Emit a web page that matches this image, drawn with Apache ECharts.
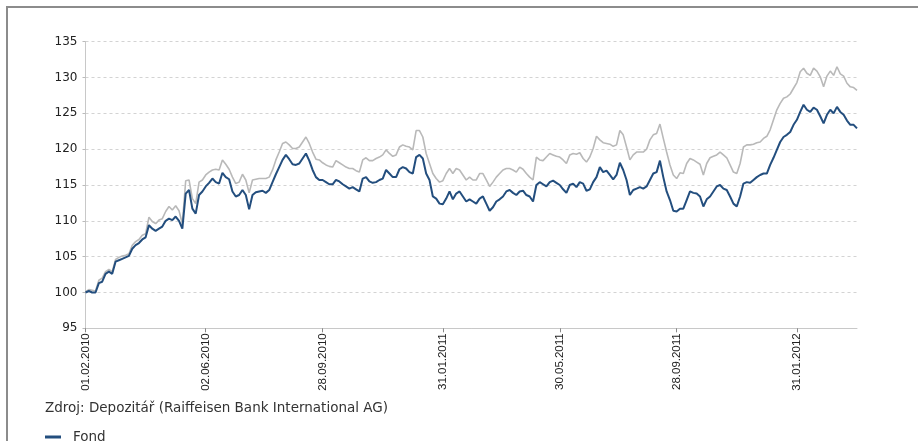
<!DOCTYPE html>
<html><head><meta charset="utf-8">
<script src="https://cdn.jsdelivr.net/npm/echarts@6/dist/echarts.min.js"></script>
<style>
html,body{margin:0;padding:0;background:#fff;}
#frame{position:absolute;left:6px;top:6px;width:912px;height:435px;border-left:2px solid #8c8c8c;border-top:2px solid #8c8c8c;box-sizing:border-box;}
#chart{position:absolute;left:0;top:0;width:918px;height:441px;}
</style></head><body>
<div id="frame"></div><div id="chart"></div>
<script>
const tickLabels = ['01.02.2010','02.06.2010','28.09.2010','31.01.2011','30.05.2011','28.09.2011','31.01.2012'];
const tickIndex = [0, 36, 71, 107, 142, 177, 213];

const fund = [
100.0,100.2,100.0,100.0,101.3,101.5,102.6,102.9,102.6,104.3,
104.5,104.7,104.9,105.1,106.1,106.6,106.9,107.4,107.7,109.4,
108.9,108.6,108.9,109.2,110.0,110.3,110.1,110.6,110.0,108.9,
113.8,114.3,111.7,111.0,113.6,114.1,114.8,115.3,115.9,115.4,
115.2,116.7,116.1,115.8,114.1,113.4,113.6,114.3,113.6,111.6,
113.6,114.0,114.1,114.2,113.9,114.3,115.4,116.5,117.5,118.5,
119.2,118.6,117.9,117.8,118.0,118.7,119.4,118.4,117.1,116.1,
115.7,115.7,115.4,115.1,115.1,115.7,115.5,115.1,114.8,114.5,
114.7,114.4,114.1,115.9,116.1,115.5,115.3,115.4,115.7,115.9,
117.1,116.6,116.1,116.1,117.2,117.5,117.3,116.8,116.6,118.9,
119.2,118.7,116.6,115.7,113.4,113.1,112.4,112.3,113.1,
114.1,113.0,113.8,114.1,113.4,112.7,113.0,112.7,112.4,113.1,
113.4,112.4,111.4,111.9,112.7,113.0,113.4,114.1,114.3,113.9,
113.6,114.1,114.2,113.6,113.4,112.7,115.0,115.4,115.1,114.8,
115.4,115.6,115.3,115.0,114.4,113.9,115.0,115.2,114.7,115.4,
115.2,114.2,114.4,115.4,116.1,117.5,116.8,117.0,116.4,115.8,
116.4,118.1,117.1,115.7,113.6,114.3,114.5,114.7,114.5,114.8,
115.7,116.6,116.8,118.4,116.1,114.1,112.9,111.4,111.3,111.7,
111.7,112.9,114.1,113.9,113.8,113.4,112.0,113.0,113.4,114.1,
114.8,115.0,114.5,114.3,113.4,112.4,112.0,113.4,115.2,115.4,
115.3,115.7,116.1,116.4,116.6,116.6,117.8,118.8,119.9,121.0,
121.7,122.0,122.4,123.4,124.1,125.2,126.2,125.5,125.2,125.8,
125.5,124.6,123.6,124.8,125.5,125.0,125.9,125.2,124.8,124.0,
123.4,123.4,122.9
];

const benchmark = [
100.1,100.4,100.3,100.2,101.7,102.0,102.9,103.2,102.9,104.6,
104.9,105.1,105.2,105.4,106.6,107.1,107.4,108.0,108.2,110.5,
109.9,109.6,110.1,110.3,111.3,112.0,111.5,112.1,111.4,109.6,
115.6,115.7,113.1,112.4,115.4,115.7,116.4,116.8,117.1,117.2,
117.1,118.5,117.9,117.2,116.1,115.2,115.4,116.5,115.7,113.9,
115.7,115.8,115.9,115.9,115.9,116.1,117.1,118.5,119.6,120.8,
121.0,120.6,120.1,120.1,120.3,121.0,121.7,120.8,119.6,118.6,
118.5,118.1,117.8,117.6,117.5,118.4,118.1,117.8,117.5,117.3,
117.3,117.0,116.8,118.5,118.8,118.4,118.4,118.7,118.9,119.2,
119.9,119.4,119.0,119.2,120.3,120.6,120.4,120.3,119.9,122.6,
122.6,121.7,119.4,118.0,116.6,115.9,115.4,115.6,116.6,
117.3,116.6,117.3,117.1,116.4,115.7,116.1,115.7,115.7,116.6,
116.6,115.7,114.8,115.4,116.1,116.6,117.1,117.3,117.3,117.1,
116.8,117.5,117.2,116.6,116.1,115.7,118.9,118.5,118.4,118.9,
119.4,119.2,119.0,118.9,118.5,118.0,119.2,119.4,119.3,119.5,
118.7,118.2,118.9,120.1,121.8,121.3,120.9,120.8,120.7,120.4,
120.6,122.6,122.0,120.3,118.5,119.2,119.6,119.6,119.6,120.0,
121.3,122.0,122.2,123.5,121.5,119.6,117.8,116.4,115.9,116.7,
116.6,118.0,118.7,118.5,118.2,117.9,116.4,118.0,118.8,119.0,
119.2,119.6,119.2,118.8,117.8,116.8,116.6,118.0,120.3,120.6,
120.6,120.7,120.9,121.0,121.5,121.8,122.7,124.1,125.5,126.4,
127.1,127.3,127.7,128.5,129.3,130.8,131.3,130.6,130.3,131.3,
130.9,130.1,128.7,130.2,130.9,130.3,131.5,130.5,130.2,129.2,
128.7,128.6,128.2
];

const categories = fund.map((_, i) => 'p' + i);
const showTick = (i) => tickIndex.indexOf(i) >= 0;

const chart = echarts.init(document.getElementById('chart'), null, {renderer: 'canvas'});
chart.setOption({
  animation: false,
  backgroundColor: 'transparent',
  grid: {left: 85.5, top: 41.7, width: 771.5, height: 286.6, containLabel: false},
  legend: {
    data: ['Fond'], left: 45, top: 430, padding: 0, icon: 'rect', itemWidth: 16, itemHeight: 3,
    textStyle: {fontFamily: 'DejaVu Sans', fontSize: 13.5, color: '#333', padding: [0,0,0,7]}
  },
  graphic: [{
    type: 'text', left: 45, top: 401,
    style: {text: 'Zdroj: Depozitář (Raiffeisen Bank International AG)', font: '13.5px "DejaVu Sans"', fill: '#333'}
  }],
  xAxis: {
    type: 'category', data: categories, boundaryGap: false,
    axisLine: {lineStyle: {color: '#c8c8c8', width: 1}},
    axisTick: {show: true, interval: showTick, length: 4, lineStyle: {color: '#888'}},
    axisLabel: {
      interval: showTick, rotate: 90, margin: 5,
      formatter: (v, i) => { const t = tickIndex.indexOf(i); return t >= 0 ? tickLabels[t] : ''; },
      fontFamily: 'Liberation Sans', fontSize: 11.5, color: '#222'
    },
    splitLine: {show: false}
  },
  yAxis: {
    type: 'value', min: 95, max: 135, interval: 5,
    axisLine: {show: true, lineStyle: {color: '#c8c8c8'}},
    axisTick: {show: true, length: 3, lineStyle: {color: '#bbb'}},
    axisLabel: {fontFamily: 'DejaVu Sans', fontSize: 12, color: '#222', margin: 8},
    splitLine: {show: true, lineStyle: {color: '#d3d3d3', type: [3, 3], width: 1}}
  },
  series: [
    {name: 'Benchmark', type: 'line', data: benchmark, showSymbol: false, symbol: 'none',
     lineStyle: {color: '#b9b9b9', width: 1.6}, itemStyle: {color: '#b9b9b9'}, z: 2},
    {name: 'Fond', type: 'line', data: fund, showSymbol: false, symbol: 'none',
     lineStyle: {color: '#234e7e', width: 2}, itemStyle: {color: '#234e7e'}, z: 3}
  ]
});
</script>
</body></html>
